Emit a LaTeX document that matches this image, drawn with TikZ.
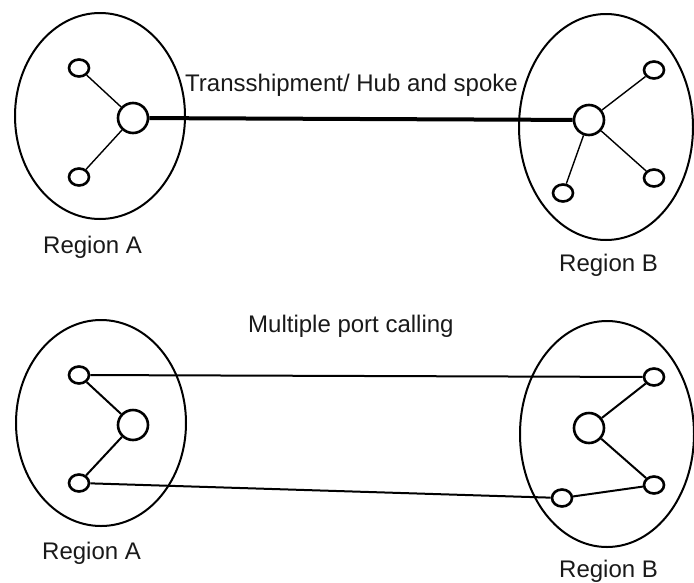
\documentclass[tikz,border=0pt]{standalone}
\usepackage{fontspec}
\setmainfont{Liberation Sans}
\usetikzlibrary{shapes.geometric}
\begin{document}
\begin{tikzpicture}[x=1pt,y=-1pt,
  region/.style={draw, ellipse, line width=2pt, inner sep=0pt},
  hub/.style={draw, circle, line width=2.6pt, minimum size=30pt, inner sep=0pt},
  port/.style={draw, ellipse, line width=2.6pt, minimum width=20pt, minimum height=17pt, inner sep=0pt},
  lbl/.style={anchor=base west, inner sep=0pt, font=\fontsize{24}{28}\selectfont, text=black!90},
  spoke/.style={line width=1.4pt},
  spokeb/.style={line width=2pt},
  trunk/.style={line width=4pt},
  link/.style={line width=2pt}]
\useasboundingbox (0,0) rectangle (694,582);
% ---- top diagram ----
\node[region, minimum width=170pt, minimum height=206pt] (rA1) at (100,116) {};
\node[region, minimum width=174pt, minimum height=226pt] (rB1) at (606,127) {};
\node[hub] (hA1) at (133,118) {};
\node[port] (a1t) at (79,68) {};
\node[port] (a1b) at (79,177) {};
\node[hub] (hB1) at (589,120) {};
\node[port] (b1t) at (654,70) {};
\node[port] (b1r) at (654,178) {};
\node[port] (b1l) at (563,193) {};
\draw[spoke] (hA1) -- (a1t);
\draw[spoke] (hA1) -- (a1b);
\draw[spoke] (hB1) -- (b1t);
\draw[spoke] (hB1) -- (b1r);
\draw[spoke] (hB1) -- (b1l);
\draw[trunk] (hA1) -- (hB1);
\node[lbl] (t1) at (185,91) {Transshipment/ Hub and spoke};
\node[lbl] (lA1) at (43,253) {Region A};
\node[lbl] (lB1) at (559,271) {Region B};
% ---- bottom diagram ----
\node[region, minimum width=170pt, minimum height=206pt] (rA2) at (101,423) {};
\node[region, minimum width=174pt, minimum height=226pt] (rB2) at (607,434) {};
\node[hub] (hA2) at (133,425) {};
\node[port] (a2t) at (79,375) {};
\node[port] (a2b) at (79,483) {};
\node[hub] (hB2) at (589,428) {};
\node[port] (b2t) at (654,377) {};
\node[port] (b2r) at (654,485) {};
\node[port] (b2l) at (562,498) {};
\draw[spokeb] (hA2) -- (a2t);
\draw[spokeb] (hA2) -- (a2b);
\draw[spokeb] (hB2) -- (b2t);
\draw[spokeb] (hB2) -- (b2r);
\draw[link] (a2t) -- (b2t);
\draw[link] (a2b) -- (b2l);
\draw[link] (b2l) -- (b2r);
\node[lbl] (t2) at (248,332) {Multiple port calling};
\node[lbl] (lA2) at (42,559) {Region A};
\node[lbl] (lB2) at (559,577) {Region B};
\end{tikzpicture}
\end{document}
